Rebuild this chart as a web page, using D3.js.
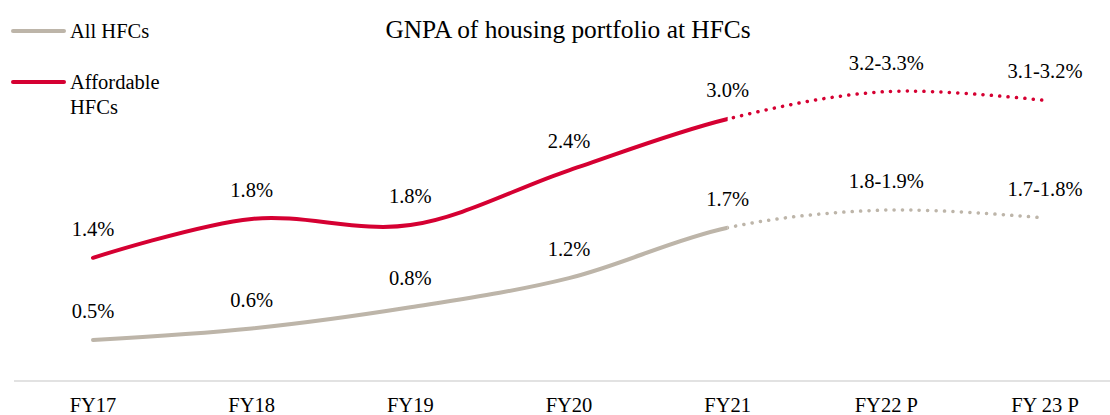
<!DOCTYPE html>
<html>
  <head>
    <meta charset="utf-8">
    <title>GNPA of housing portfolio at HFCs</title>
    <style>
      body { margin: 0; background: #fff; }
      text { font-family: "Liberation Serif", "Times New Roman", serif; fill: #000; }
    </style>
  </head>
  <body>
    <script src="https://cdn.jsdelivr.net/npm/d3@7"></script>
    <script type="text/javascript">
      var categories = ["FY17", "FY18", "FY19", "FY20", "FY21", "FY22 P", "FY 23 P"];
      var allHfc = [0.5, 0.63, 0.87, 1.2, 1.77, 1.97, 1.88];
      var affordable = [1.43, 1.87, 1.8, 2.42, 3.0, 3.31, 3.21];
      var allLabels = ["0.5%", "0.6%", "0.8%", "1.2%", "1.7%", "1.8-1.9%", "1.7-1.8%"];
      var affLabels = ["1.4%", "1.8%", "1.8%", "2.4%", "3.0%", "3.2-3.3%", "3.1-3.2%"];
      var lastActual = 4; // FY21, projections dotted after it

      var width = 1110;
      var height = 415;
      var grey = "#bdb5a9";
      var red = "#d50032";

      var svg = d3.select("body")
                  .append("svg")
                  .attr("width", width)
                  .attr("height", height);

      var x = d3.scalePoint().domain(categories).range([93, 1045]);
      var y = d3.scaleLinear().domain([0, 3.5]).range([384.2, 74.8]);

      // baseline
      svg.append("line")
         .attr("x1", 14).attr("x2", width)
         .attr("y1", 381).attr("y2", 381)
         .attr("stroke", "#d9d9d9")
         .attr("stroke-width", 1.5);

      svg.selectAll(".cat")
         .data(categories)
         .enter()
         .append("text")
         .attr("class", "cat")
         .attr("x", function(d) { return x(d); })
         .attr("y", 412)
         .attr("text-anchor", "middle")
         .style("font-size", "20.5px")
         .text(function(d) { return d; });

      svg.append("text")
         .attr("x", 568)
         .attr("y", 38)
         .attr("text-anchor", "middle")
         .style("font-size", "25.4px")
         .text("GNPA of housing portfolio at HFCs");

      // clip regions: solid up to FY21, dotted after
      var defs = svg.append("defs");
      defs.append("clipPath").attr("id", "solid")
          .append("rect")
          .attr("x", 0).attr("y", 0)
          .attr("width", x(categories[lastActual])).attr("height", height);
      defs.append("clipPath").attr("id", "dotted")
          .append("rect")
          .attr("x", x(categories[lastActual])).attr("y", 0)
          .attr("width", width).attr("height", height);

      var line = d3.line()
                   .x(function(d, i) { return x(categories[i]); })
                   .y(function(d) { return y(d); })
                   .curve(d3.curveCatmullRom.alpha(0.5));

      function drawSeries(values, labels, color) {
        svg.append("path")
           .attr("d", line(values))
           .attr("fill", "none")
           .attr("stroke", color)
           .attr("stroke-width", 4)
           .attr("stroke-linecap", "round")
           .attr("clip-path", "url(#solid)");
        svg.append("path")
           .attr("d", line(values))
           .attr("fill", "none")
           .attr("stroke", color)
           .attr("stroke-width", 3.5)
           .attr("stroke-linecap", "round")
           .attr("stroke-dasharray", "0.1 8.3")
           .attr("clip-path", "url(#dotted)");

        svg.append("g")
           .selectAll("text")
           .data(values)
           .enter()
           .append("text")
           .attr("x", function(d, i) { return x(categories[i]); })
           .attr("y", function(d) { return y(d) - 22; })
           .attr("text-anchor", "middle")
           .style("font-size", "20.5px")
           .text(function(d, i) { return labels[i]; });
      }

      drawSeries(allHfc, allLabels, grey);
      drawSeries(affordable, affLabels, red);

      // legend
      var legend = [
        { name: ["All HFCs"], color: grey, y: 31 },
        { name: ["Affordable", "HFCs"], color: red, y: 82 }
      ];
      var lg = svg.selectAll(".legend")
                  .data(legend)
                  .enter()
                  .append("g")
                  .attr("class", "legend");
      lg.append("line")
        .attr("x1", 13).attr("x2", 64)
        .attr("y1", function(d) { return d.y; })
        .attr("y2", function(d) { return d.y; })
        .attr("stroke", function(d) { return d.color; })
        .attr("stroke-width", 4)
        .attr("stroke-linecap", "round");
      lg.each(function(d) {
        var t = d3.select(this).append("text")
                  .attr("x", 70)
                  .attr("y", d.y + 7)
                  .style("font-size", "20.5px");
        t.selectAll("tspan")
         .data(d.name)
         .enter()
         .append("tspan")
         .attr("x", 70)
         .attr("dy", function(n, i) { return i === 0 ? 0 : 25; })
         .text(function(n) { return n; });
      });
    </script>
  </body>
</html>
